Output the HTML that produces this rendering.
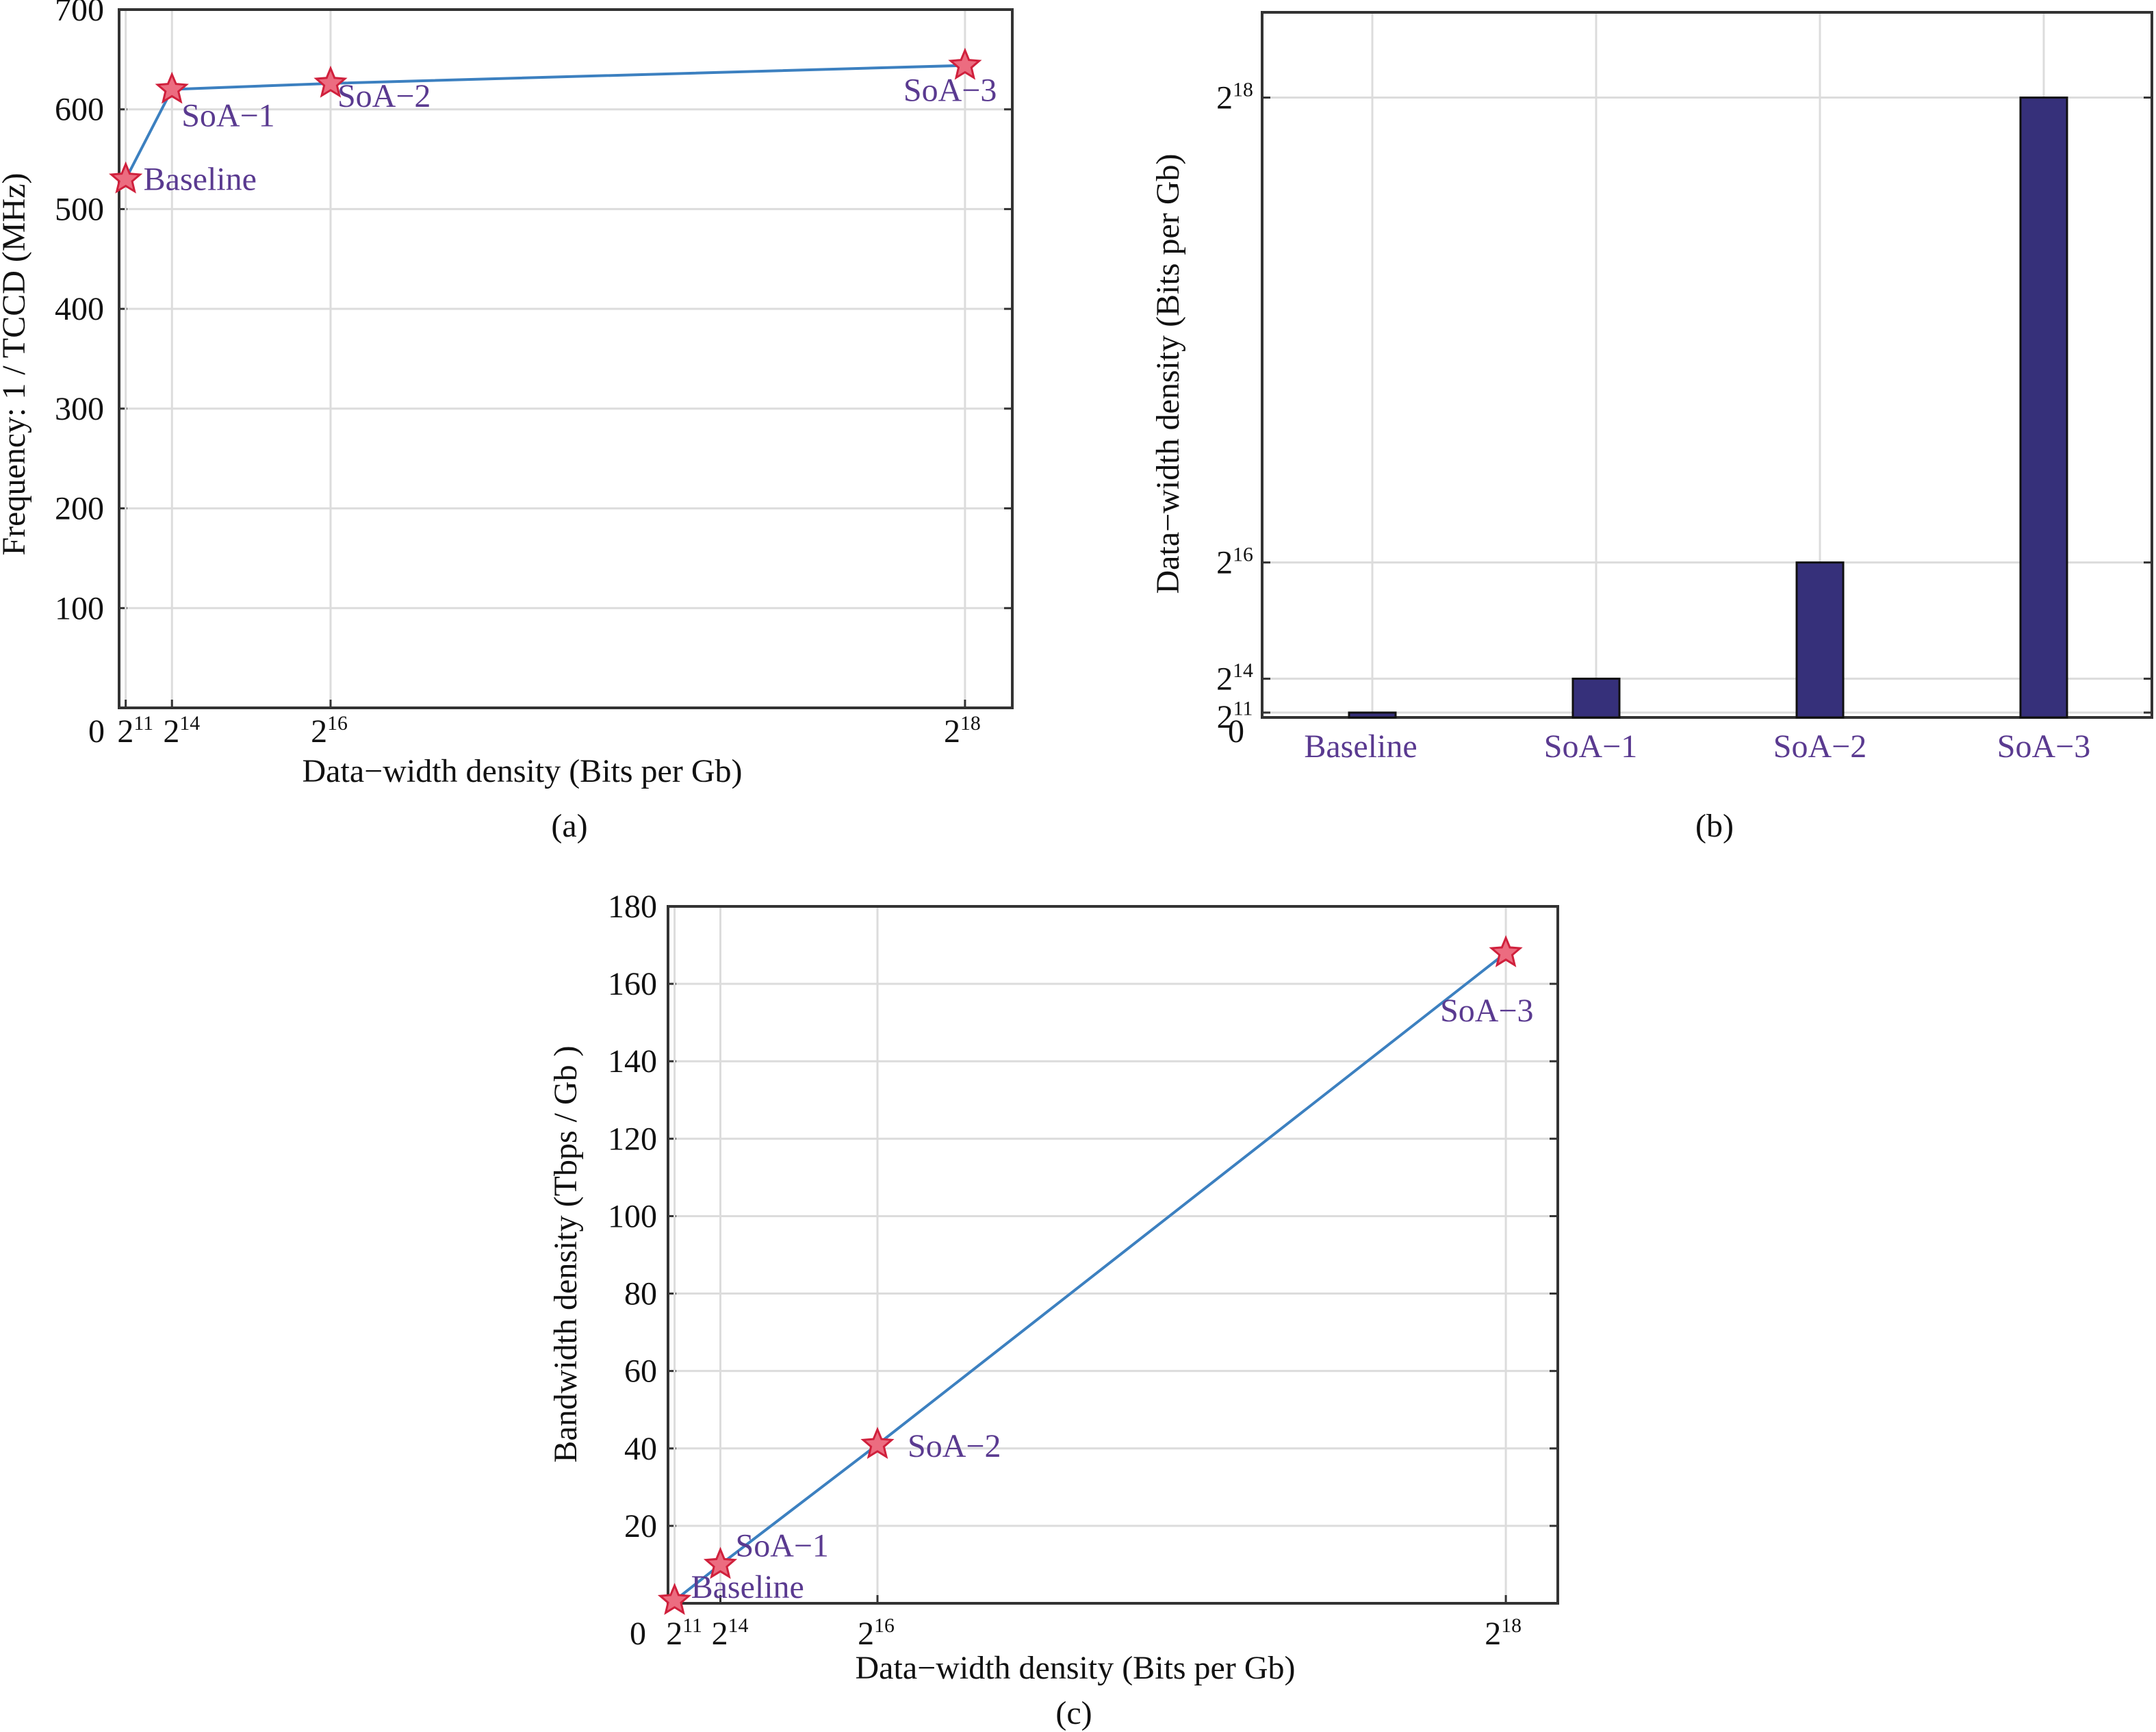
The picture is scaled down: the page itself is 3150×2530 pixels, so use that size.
<!DOCTYPE html>
<html><head><meta charset="utf-8"><style>
html,body{margin:0;padding:0;background:#fff}
svg{display:block}
text{font-family:"Liberation Serif",serif}
</style></head><body>
<svg id="fig" width="3150" height="2530" viewBox="0 0 3150 2530" xmlns="http://www.w3.org/2000/svg"></svg>
<script>
// Panel (a)
const aNames = ["Baseline","SoA−1","SoA−2","SoA−3"];
const aX = [2048,16384,65536,262144];
const aFreq = [530,620,626,644];
const aYTicks = [100,200,300,400,500,600,700];
// Panel (b)
const bCats = ["Baseline","SoA−1","SoA−2","SoA−3"];
const bVals = [2048,16384,65536,262144];
// Panel (c)
const cNames = ["Baseline","SoA−1","SoA−2","SoA−3"];
const cX = [2048,16384,65536,262144];
const cBw = [0.7,10,41,168];
const cYTicks = [20,40,60,80,100,120,140,160,180];
const pow2Ticks = [11,14,16,18];

const svg=document.getElementById('fig');
const NS='http://www.w3.org/2000/svg';
const FS=48;
function el(tag,attrs,parent){const e=document.createElementNS(NS,tag);for(const k in attrs)e.setAttribute(k,attrs[k]);(parent||svg).appendChild(e);return e;}
function txt(x,y,s,size,anchor,parent,color){const t=el('text',{x:x,y:y,'font-size':size,'text-anchor':anchor||'start'},parent);t.style.fill=color||'#111';t.textContent=s;return t;}
function pow(x,y,e,size,anchor,parent){const t=el('text',{x:x,y:y,'font-size':size,'text-anchor':anchor||'middle'},parent);t.style.fill='#111';const a=document.createElementNS(NS,'tspan');a.textContent='2';t.appendChild(a);const b=document.createElementNS(NS,'tspan');b.setAttribute('font-size',size*0.62);b.setAttribute('dy',-size*0.38);b.textContent=e;t.appendChild(b);return t;}
function star(cx,cy,r,parent){let p=[];for(let i=0;i<10;i++){const ang=-Math.PI/2+i*Math.PI/5;const rr=i%2?r*0.45:r;p.push((cx+rr*Math.cos(ang)).toFixed(1)+','+(cy+rr*Math.sin(ang)).toFixed(1));}return el('polygon',{points:p.join(' '),fill:'#ec6c80',stroke:'#d0203c','stroke-width':3},parent);}
const LBL='#5a3a90';
const tickShift={11:14,14:14,16:-2,18:-4};

function frame(g,L,T,R,B){el('rect',{x:L,y:T,width:R-L,height:B-T,fill:'none',stroke:'#333','stroke-width':4},g);}

// ---------- Panel (a) ----------
(function(){
 const g=el('g',{});
 const L=174,T=14,R=1479,B=1034,xmax=276800,ymax=700;
 const xs=v=>L+v/xmax*(R-L), ys=v=>B-v/ymax*(B-T);
 aYTicks.forEach(v=>{if(v<ymax)el('line',{x1:L,x2:R,y1:ys(v),y2:ys(v),stroke:'#dcdcdc','stroke-width':3},g);
  el('line',{x1:L,x2:L+12,y1:ys(v),y2:ys(v),stroke:'#333','stroke-width':3},g);el('line',{x1:R-12,x2:R,y1:ys(v),y2:ys(v),stroke:'#333','stroke-width':3},g);
  const t=txt(L-22,ys(v)+16,String(v),FS,'end',g);});
 pow2Ticks.forEach(e=>{const x=xs(Math.pow(2,e));el('line',{x1:x,x2:x,y1:T,y2:B,stroke:'#dcdcdc','stroke-width':3},g);el('line',{x1:x,x2:x,y1:B-12,y2:B,stroke:'#333','stroke-width':3},g);
  const t=pow(x+tickShift[e],1084,e,FS,'middle',g);});
 txt(141,1084,'0',FS,'middle',g);
 frame(g,L,T,R,B);
 const line=el('polyline',{points:aX.map((v,i)=>xs(v)+','+ys(aFreq[i])).join(' '),fill:'none',stroke:'#3c80c0','stroke-width':4},g);
 
 const off=[[26,16],[14,54],[10,34],[-90,52]];
 aX.forEach((v,i)=>{const s=star(xs(v),ys(aFreq[i]),22,g);
  const t=txt(xs(v)+off[i][0],ys(aFreq[i])+off[i][1],aNames[i],FS,'start',g,LBL);});
 const yl=txt(0,0,'Frequency: 1 / TCCD (MHz)',FS,'middle',g);yl.setAttribute('transform','translate(36,532) rotate(-90)');
 const xl=txt(763,1142,'Data−width density (Bits per Gb)',FS,'middle',g);
 const c=txt(832,1222,'(a)',FS,'middle',g);
})();

// ---------- Panel (b) ----------
(function(){
 const g=el('g',{});
 const L=1844,T=18,R=3144,B=1048,ymax=298200;
 const ys=v=>B-v/ymax*(B-T);
 const bandStart=2005, band=327, xc=i=>bandStart+band*i;
 pow2Ticks.forEach(e=>{const y=ys(Math.pow(2,e));el('line',{x1:L,x2:R,y1:y,y2:y,stroke:'#dcdcdc','stroke-width':3},g);el('line',{x1:L,x2:L+12,y1:y,y2:y,stroke:'#333','stroke-width':3},g);el('line',{x1:R-12,x2:R,y1:y,y2:y,stroke:'#333','stroke-width':3},g);
  const t=pow(L-40,y+(e===11?22:16),e,FS,'middle',g);});
 txt(1806,1084,'0',FS,'middle',g);
 bCats.forEach((c,i)=>{el('line',{x1:xc(i),x2:xc(i),y1:T,y2:B,stroke:'#dcdcdc','stroke-width':3},g);});
 frame(g,L,T,R,B);
 bVals.forEach((v,i)=>{const r=el('rect',{x:xc(i)-34,y:ys(v),width:68,height:B-ys(v),fill:'#36307a',stroke:'#111','stroke-width':3},g);
  const t=txt(xc(i)-(i===0?17:(i===1?8:0)),1106,bCats[i],FS,'middle',g,LBL);});
 const yl=txt(0,0,'Data−width density (Bits per Gb)',FS,'middle',g);yl.setAttribute('transform','translate(1722,546) rotate(-90)');
 const c=txt(2505,1222,'(b)',FS,'middle',g);
})();

// ---------- Panel (c) ----------
(function(){
 const g=el('g',{});
 const L=976,T=1324,R=2276,B=2342,xmax=278400,ymax=180;
 const xs=v=>L+v/xmax*(R-L), ys=v=>B-v/ymax*(B-T);
 cYTicks.forEach(v=>{if(v<ymax)el('line',{x1:L,x2:R,y1:ys(v),y2:ys(v),stroke:'#dcdcdc','stroke-width':3},g);
  el('line',{x1:L,x2:L+12,y1:ys(v),y2:ys(v),stroke:'#333','stroke-width':3},g);el('line',{x1:R-12,x2:R,y1:ys(v),y2:ys(v),stroke:'#333','stroke-width':3},g);
  const t=txt(L-16,ys(v)+16,String(v),FS,'end',g);});
 pow2Ticks.forEach(e=>{const x=xs(Math.pow(2,e));el('line',{x1:x,x2:x,y1:T,y2:B,stroke:'#dcdcdc','stroke-width':3},g);el('line',{x1:x,x2:x,y1:B-12,y2:B,stroke:'#333','stroke-width':3},g);
  const t=pow(x+tickShift[e]+(e===16?0:0),2402,e,FS,'middle',g);});
 txt(932,2402,'0',FS,'middle',g);
 frame(g,L,T,R,B);
 const line=el('polyline',{points:cX.map((v,i)=>xs(v)+','+ys(cBw[i])).join(' '),fill:'none',stroke:'#3c80c0','stroke-width':4},g);
 
 const off=[[24,-4],[22,-12],[44,18],[-96,100]];
 cX.forEach((v,i)=>{const s=star(xs(v),ys(cBw[i]),22,g);
  const t=txt(xs(v)+off[i][0],ys(cBw[i])+off[i][1],cNames[i],FS,'start',g,LBL);});
 const yl=txt(0,0,'Bandwidth density (Tbps / Gb )',FS,'middle',g);yl.setAttribute('transform','translate(842,1832) rotate(-90)');
 const xl=txt(1571,2452,'Data−width density (Bits per Gb)',FS,'middle',g);
 const c=txt(1569,2518,'(c)',FS,'middle',g);
})();
</script>
</body></html>
